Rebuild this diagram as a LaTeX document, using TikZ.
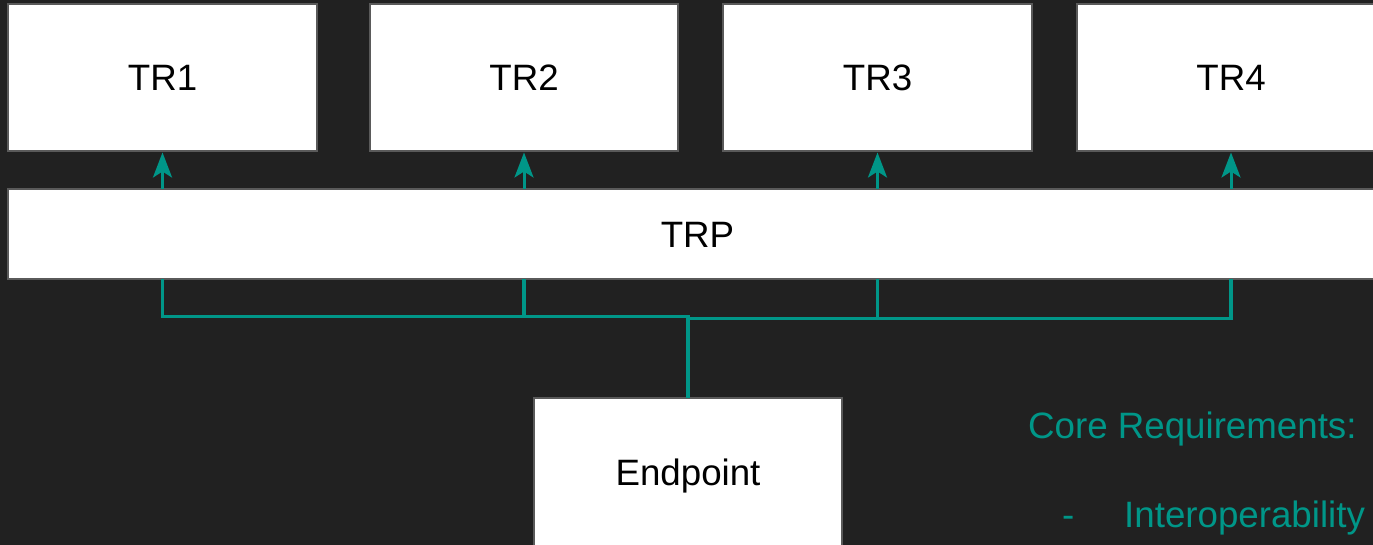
\documentclass[tikz,border=0pt]{standalone}
\usepackage{fontspec}
\setmainfont{Liberation Sans}
\usetikzlibrary{arrows.meta}
\definecolor{bgc}{HTML}{212121}
\definecolor{teal}{HTML}{009688}
\definecolor{edge}{HTML}{5A5A5A}
\tikzset{
  box/.style={draw=edge, line width=1.5pt, fill=white, inner sep=0pt, outer sep=0pt,
    text height=26.3pt, text depth=0pt, font=\fontsize{36.7}{44}\selectfont, text=black},
  link/.style={draw=teal, line width=3.5pt},
  arr/.style={draw=teal, line width=3pt, -{Stealth[length=25pt, width=19pt, inset=6pt]}, shorten >=1.5pt},
  note/.style={text=teal, inner sep=0pt, anchor=west, text height=26.3pt, text depth=0pt,
    font=\fontsize{36.7}{44}\selectfont}
}
\begin{document}
\begin{tikzpicture}[x=1pt, y=-1pt]
\useasboundingbox (0,0) rectangle (1373,545);
\clip (0,0) rectangle (1373,545);
\fill[bgc] (0,0) rectangle (1373,545);
% top row
\node[box, minimum width=309pt, minimum height=147pt] (tr1) at (162.5,77.5) {TR1};
\node[box, minimum width=308pt, minimum height=147pt] (tr2) at (524,77.5) {TR2};
\node[box, minimum width=309pt, minimum height=147pt] (tr3) at (877.5,77.5) {TR3};
\node[box, minimum width=308pt, minimum height=147pt] (tr4) at (1231,77.5) {TR4};
% TRP
\node[box, minimum width=1379pt, minimum height=90pt] (trp) at (697.5,234) {TRP};
% Endpoint
\node[box, minimum width=308pt, minimum height=148pt] (ep) at (688,472) {Endpoint};
% bus coordinates
\coordinate (busL) at (0,316.7);
\coordinate (busR) at (0,318.3);
% connectors from endpoint to TRP
\draw[link] (ep.north) -- (ep.north |- busL) -| (trp.south -| tr1.south);
\draw[link] (ep.north) -- (ep.north |- busL) -| (trp.south -| tr2.south);
\draw[link] (ep.north) -- (ep.north |- busR) -| (trp.south -| tr3.south);
\draw[link] (ep.north) -- (ep.north |- busR) -| (trp.south -| tr4.south);
% arrows from TRP to TR boxes
\draw[arr] (trp.north -| tr1.south) -- (tr1.south);
\draw[arr] (trp.north -| tr2.south) -- (tr2.south);
\draw[arr] (trp.north -| tr3.south) -- (tr3.south);
\draw[arr] (trp.north -| tr4.south) -- (tr4.south);
% notes
\node[note] (core) at (1028,425) {Core Requirements:};
\node[note] (dash) at (1062,514) {-};
\node[note] (interop) at (1124,514) {Interoperability};
\end{tikzpicture}
\end{document}
